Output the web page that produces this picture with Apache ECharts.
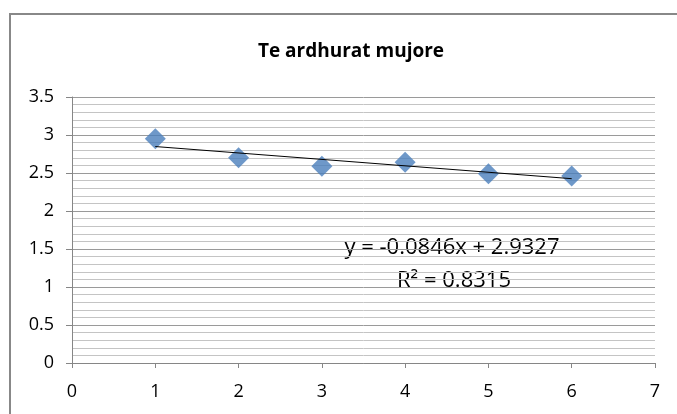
<!DOCTYPE html>
<html>
<head>
<meta charset="utf-8">
<title>Te ardhurat mujore</title>
<script src="https://cdn.jsdelivr.net/npm/echarts@6/dist/echarts.min.js"></script>
<style>
  html, body { margin: 0; padding: 0; background: #ffffff; }
  #chart { width: 677px; height: 414px; }
</style>
</head>
<body>
<div id="chart"></div>
<script>
// Monthly income observations
var months = [1, 2, 3, 4, 5, 6];
var income = [2.95, 2.70, 2.59, 2.64, 2.49, 2.46];

// Linear trend fitted to the observations
var trendSlope = -0.0846;
var trendIntercept = 2.9327;
var trendR2 = 0.8315;

// Axis ranges
var xTicks = [0, 1, 2, 3, 4, 5, 6, 7];
var yTicks = [0, 0.5, 1, 1.5, 2, 2.5, 3, 3.5];

var FONT = 'Open Sans';

var points = months.map(function (m, i) { return [m, income[i]]; });
var trendX = [months[0], months[months.length - 1]];
var trendPoints = trendX.map(function (x) { return [x, trendIntercept + trendSlope * x]; });

var eqText = 'y = ' + trendSlope.toFixed(4) + 'x + ' + trendIntercept.toFixed(4);
var r2Text = 'R\u00B2 = ' + trendR2.toFixed(4);

var chart = echarts.init(document.getElementById('chart'), null, { renderer: 'canvas' });

chart.setOption({
  backgroundColor: '#ffffff',
  animation: false,
  title: {
    text: 'Te ardhurat mujore',
    left: 346,
    top: 37,
    textAlign: 'center',
    textStyle: { fontFamily: FONT, fontWeight: 'bold', fontSize: 19, color: '#000000' }
  },
  grid: { left: 72, right: 22, top: 97, bottom: 51, containLabel: false },
  xAxis: {
    type: 'value',
    min: xTicks[0],
    max: xTicks[xTicks.length - 1],
    interval: 1,
    axisLine: { show: true, onZero: false, lineStyle: { color: '#868686', width: 1 } },
    axisTick: { show: true, inside: false, length: 5, lineStyle: { color: '#868686' } },
    axisLabel: { margin: 20, fontFamily: FONT, fontSize: 18, color: '#000000' },
    splitLine: { show: false }
  },
  yAxis: {
    type: 'value',
    min: yTicks[0],
    max: yTicks[yTicks.length - 1],
    interval: 0.5,
    axisLine: { show: true, onZero: false, lineStyle: { color: '#868686', width: 1 } },
    axisTick: { show: true, inside: false, length: 6, lineStyle: { color: '#868686' } },
    axisLabel: { margin: 18, fontFamily: FONT, fontSize: 18, color: '#000000' },
    splitLine: { show: true, lineStyle: { color: '#9a9a9a', width: 1 } },
    minorTick: { show: false, splitNumber: 5 },
    minorSplitLine: { show: true, lineStyle: { color: '#c4c4c4', width: 1 } }
  },
  series: [
    {
      name: 'Te ardhurat',
      type: 'scatter',
      data: points,
      symbol: 'diamond',
      symbolSize: 21,
      itemStyle: { color: '#4a7ebb' },
      z: 3
    },
    {
      name: 'Trend',
      type: 'line',
      data: trendPoints,
      showSymbol: false,
      symbol: 'none',
      lineStyle: { color: '#000000', width: 1 },
      z: 4
    }
  ],
  graphic: [
    {
      type: 'rect',
      shape: { x: 10, y: 14, width: 700, height: 450 },
      style: { fill: 'none', stroke: '#888888', lineWidth: 2 },
      silent: true
    },
    {
      type: 'text',
      x: 452,
      y: 248,
      style: {
        text: eqText,
        fontFamily: FONT,
        fontSize: 22,
        fill: '#000000',
        textAlign: 'center',
        textVerticalAlign: 'middle'
      }
    },
    {
      type: 'text',
      x: 454,
      y: 281,
      style: {
        text: r2Text,
        fontFamily: FONT,
        fontSize: 22,
        fill: '#000000',
        textAlign: 'center',
        textVerticalAlign: 'middle'
      }
    }
  ]
});
</script>
</body>
</html>
